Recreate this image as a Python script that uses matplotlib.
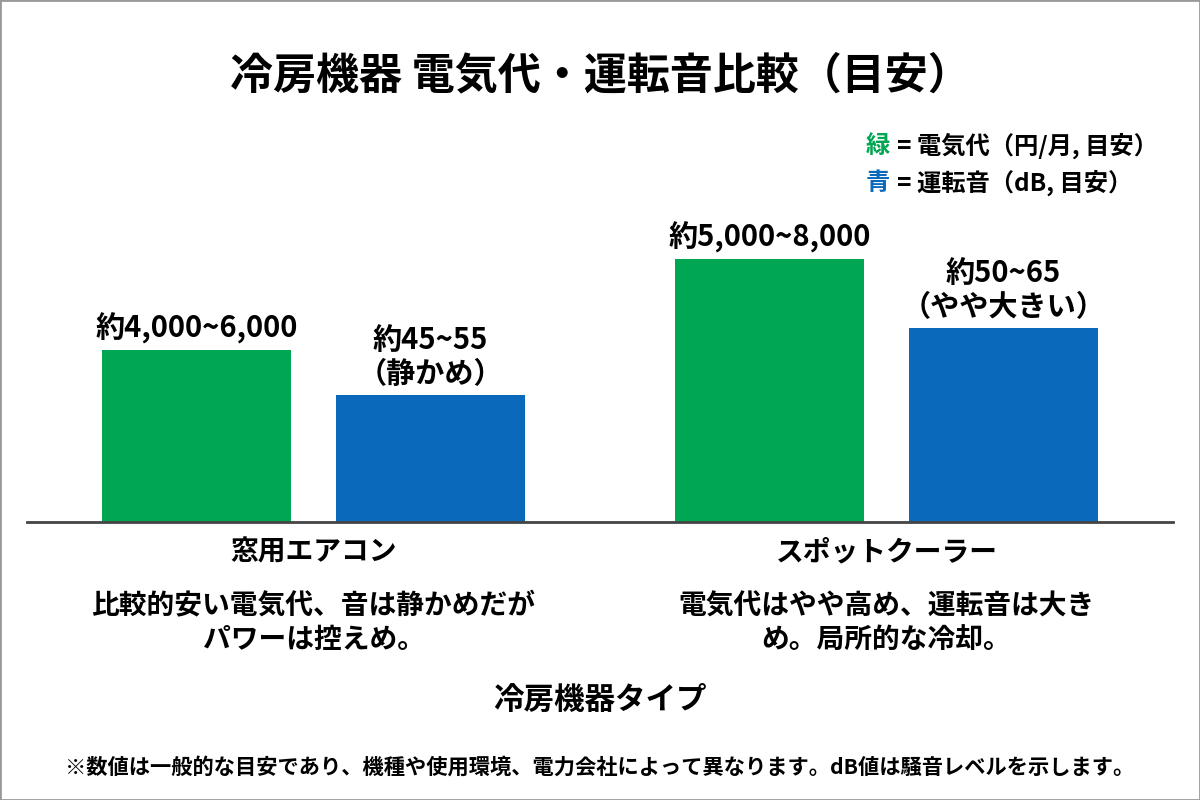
import matplotlib
matplotlib.use("Agg")
import matplotlib.pyplot as plt
from matplotlib.patches import Rectangle

plt.rcParams['font.family'] = ['Noto Sans CJK JP', 'DejaVu Sans']
plt.rcParams['font.weight'] = 'bold'

# data (bar heights are relative display values)
categories = ['窓用エアコン', 'スポットクーラー']
cost_height = [172, 263]
noise_height = [127, 194]
cost_labels = ['約4,000~6,000', '約5,000~8,000']
noise_labels = ['約45~55\n（静かめ）', '約50~65\n（やや大きい）']
descriptions = ['比較的安い電気代、音は静かめだが\nパワーは控えめ。',
                '電気代はやや高め、運転音は大き\nめ。局所的な冷却。']

green = '#00A651'
blue = '#0A69BA'

fig = plt.figure(figsize=(12, 8), dpi=100)
ax = fig.add_axes([0.0225, 0.3475, 0.955, 0.49])

x = [0, 1]
w = 0.331
off = 0.204
xg = [i - off for i in x]
xb = [i + off for i in x]
ax.bar(xg, cost_height, width=w, color=green)
ax.bar(xb, noise_height, width=w, color=blue)

for xi, h, lab in zip(xg, cost_height, cost_labels):
    ax.annotate(lab, (xi, h), xytext=(0, 4), textcoords='offset points',
                ha='center', va='bottom', fontsize=21, fontweight='bold')
for xi, h, lab in zip(xb, noise_height, noise_labels):
    ax.annotate(lab, (xi, h), xytext=(0, 4), textcoords='offset points',
                ha='center', va='bottom', fontsize=21, fontweight='bold',
                linespacing=1.2)

ax.set_xlim(-0.5, 1.5)
ax.set_ylim(0, 392)
ax.set_yticks([])
for s in ['top', 'right', 'left']:
    ax.spines[s].set_visible(False)
ax.spines['bottom'].set_color('#444444')
ax.spines['bottom'].set_linewidth(2)

ax.set_xticks(x)
ax.set_xticklabels(categories, fontsize=20, fontweight='bold')
ax.tick_params(axis='x', length=0, pad=12)

tr = ax.get_xaxis_transform()
for xi, d in zip(x, descriptions):
    ax.text(xi, -0.259, d, transform=tr, ha='center', va='center',
            fontsize=20, fontweight='bold', linespacing=1.25)

ax.set_xlabel('冷房機器タイプ', fontsize=22, fontweight='bold')
ax.xaxis.set_label_coords(0.5, -0.454)
ax.xaxis.label.set_va('center')

fig.text(0.5, 0.906, '冷房機器 電気代・運転音比較（目安）', ha='center', va='center',
         fontsize=31, fontweight='bold')

# legend text
fig.text(0.7217, 0.818, '緑', color=green, ha='left', va='center', fontsize=17.5, fontweight='bold')
fig.text(0.7475, 0.818, '= 電気代（円/月, 目安）', ha='left', va='center', fontsize=17.5, fontweight='bold')
fig.text(0.7217, 0.771, '青', color=blue, ha='left', va='center', fontsize=17.5, fontweight='bold')
fig.text(0.7475, 0.771, '= 運転音（dB, 目安）', ha='left', va='center', fontsize=17.5, fontweight='bold')

fig.text(0.5, 0.041, '※数値は一般的な目安であり、機種や使用環境、電力会社によって異なります。dB値は騒音レベルを示します。',
         ha='center', va='center', fontsize=15.3, fontweight='bold')

fig.patches.append(Rectangle((0, 0), 1, 1, transform=fig.transFigure, fill=False,
                             edgecolor='#999999', lw=2))

fig.savefig('out.png', dpi=100)
